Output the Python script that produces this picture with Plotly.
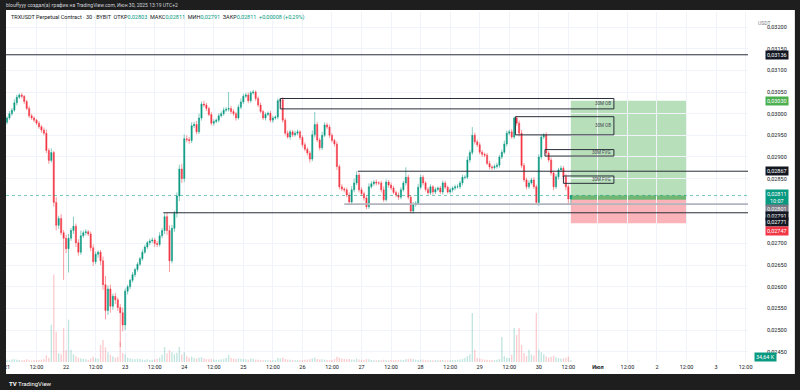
import pandas as pd
import plotly.graph_objects as go

# ---------------- data (prices in units of 0.00001 USDT) ----------------
first_open = 2980
closes = [
    # Jun 21
    2990, 3000, 3008, 3025, 3038, 3043, 3040, 3028, 3012, 2995, 2990, 2985,
    2978, 2970, 2962, 2955, 2915, 2892, 2910, 2795, 2742, 2758, 2725, 2712,
    # Jun 22
    2688, 2712, 2730, 2740, 2702, 2680, 2718, 2725, 2727, 2722, 2690, 2658,
    2675, 2680, 2660, 2605, 2545, 2595, 2555, 2578, 2570, 2552, 2540, 2512,
    # Jun 23
    2590, 2600, 2615, 2628, 2640, 2652, 2665, 2680, 2692, 2702, 2706, 2708,
    2700, 2698, 2718, 2730, 2762, 2730, 2660, 2735, 2770, 2810, 2872, 2850,
    # Jun 24
    2942, 2940, 2938, 2972, 2975, 2958, 2990, 3022, 3020, 3012, 2998, 2978,
    2982, 2985, 2995, 3000, 3008, 3010, 3012, 3005, 3000, 2990, 3015, 3027,
    # Jun 25
    3040, 3043, 3030, 3048, 3050, 3035, 3020, 3005, 2990, 2998, 3001, 2985,
    2990, 2992, 3030, 3032, 2985, 2955, 2946, 2958, 2951, 2955, 2958, 2945,
    # Jun 26
    2928, 2918, 2909, 2895, 2951, 2975, 2939, 2921, 2950, 2974, 2969, 2950,
    2938, 2930, 2878, 2831, 2826, 2824, 2812, 2796, 2824, 2840, 2858, 2824,
    # Jun 27
    2815, 2805, 2785, 2831, 2838, 2842, 2840, 2840, 2824, 2801, 2842, 2835,
    2828, 2818, 2812, 2807, 2824, 2840, 2853, 2807, 2775, 2790, 2793, 2830,
    # Jun 28
    2853, 2840, 2825, 2817, 2831, 2819, 2825, 2828, 2819, 2840, 2830, 2819,
    2824, 2828, 2831, 2831, 2840, 2853, 2853, 2893, 2910, 2950, 2935, 2928,
    # Jun 29
    2911, 2906, 2904, 2885, 2877, 2875, 2878, 2881, 2900, 2911, 2930, 2955,
    2958, 2946, 2990, 2978, 2955, 2880, 2847, 2831, 2840, 2847, 2831, 2795,
    # Jun 30
    2900, 2946, 2951, 2909, 2893, 2863, 2831, 2854, 2870, 2874, 2854, 2831,
    2803, 2811,
]
wick_up = [
    4, 6, 5, 8, 6, 4, 5, 3, 4, 6, 5, 4, 3, 5, 4, 6, 8, 5, 10, 4, 12, 6, 10, 6,
    8, 10, 6, 22, 6, 8, 12, 5, 6, 4, 6, 8, 6, 4, 5, 10, 20, 8, 10, 6, 8, 5, 8, 12,
    6, 5, 4, 6, 4, 5, 4, 6, 5, 4, 5, 6, 5, 6, 8, 6, 8, 10, 12, 8, 6, 8, 10, 12,
    10, 8, 6, 8, 6, 8, 10, 6, 8, 5, 4, 6, 5, 4, 6, 5, 6, 5, 38, 6, 5, 4, 6, 8,
    6, 5, 6, 4, 5, 4, 5, 6, 4, 5, 4, 6, 5, 4, 5, 4, 6, 5, 6, 5, 4, 6, 5, 4,
    5, 6, 4, 5, 10, 29, 6, 5, 8, 6, 5, 6, 5, 4, 6, 5, 6, 4, 5, 6, 8, 10, 9, 6,
    6, 5, 6, 8, 6, 5, 6, 4, 5, 8, 6, 5, 6, 5, 4, 6, 6, 5, 23, 6, 5, 6, 5, 8,
    6, 5, 4, 5, 6, 4, 5, 4, 5, 6, 5, 4, 5, 4, 5, 6, 5, 6, 5, 8, 6, 19, 6, 5,
    6, 5, 4, 5, 6, 4, 5, 6, 5, 6, 8, 6, 5, 6, 3, 5, 6, 8, 6, 5, 6, 5, 6, 5,
    6, 5, 4, 6, 5, 6, 5, 6, 5, 6, 5, 6, 5, 0,
]
wick_dn = [
    5, 4, 5, 4, 6, 4, 5, 6, 4, 5, 4, 5, 4, 5, 6, 5, 6, 8, 5, 10, 12, 8, 6, 96,
    10, 55, 6, 8, 10, 8, 6, 5, 6, 5, 8, 10, 6, 8, 10, 12, 20, 10, 15, 8, 10, 8, 79, 15,
    12, 8, 6, 5, 6, 5, 4, 5, 4, 5, 6, 5, 8, 6, 5, 6, 8, 10, 26, 6, 8, 10, 12, 10,
    8, 6, 8, 6, 5, 6, 5, 6, 5, 6, 4, 5, 6, 4, 5, 4, 5, 4, 5, 6, 5, 6, 4, 5,
    5, 4, 6, 5, 4, 6, 5, 4, 5, 6, 4, 5, 6, 4, 5, 4, 6, 5, 4, 6, 5, 4, 5, 6,
    6, 5, 6, 8, 5, 6, 5, 6, 5, 4, 5, 6, 5, 6, 8, 6, 5, 6, 5, 6, 5, 6, 5, 6,
    5, 6, 6, 5, 4, 5, 6, 5, 6, 5, 4, 6, 5, 4, 5, 6, 5, 4, 6, 5, 5, 6, 5, 4,
    5, 6, 5, 4, 5, 6, 5, 4, 5, 6, 5, 4, 5, 6, 5, 4, 5, 6, 5, 4, 6, 5, 6, 5,
    5, 6, 5, 4, 6, 5, 4, 5, 6, 5, 4, 6, 5, 4, 5, 6, 8, 6, 5, 6, 5, 4, 5, 6,
    8, 6, 5, 6, 5, 6, 8, 5, 6, 5, 6, 8, 14, 12,
]
volume_k = [
    45, 38, 52, 60, 48, 40, 35, 42, 55, 38, 30, 42, 36, 40, 48, 62, 140, 90, 765, 1800, 620, 180, 160, 700,
    240, 870, 250, 160, 120, 90, 75, 60, 55, 48, 70, 110, 80, 65, 350, 455, 300, 200, 150, 120, 90, 110, 410, 180,
    160, 90, 70, 60, 55, 70, 60, 50, 45, 55, 40, 48, 52, 60, 90, 150, 310, 180, 240, 200, 160, 190, 310, 150,
    200, 120, 90, 110, 80, 70, 90, 100, 70, 60, 55, 65, 50, 48, 45, 55, 60, 80, 150, 90, 70, 60, 75, 65,
    60, 55, 48, 70, 65, 50, 45, 40, 38, 42, 36, 40, 35, 38, 80, 70, 90, 60, 50, 45, 40, 38, 42, 36,
    40, 45, 50, 55, 70, 90, 60, 50, 55, 48, 40, 38, 42, 60, 110, 90, 70, 60, 55, 60, 50, 45, 70, 50,
    45, 40, 60, 55, 42, 38, 35, 40, 38, 45, 40, 36, 34, 38, 40, 42, 45, 40, 55, 60, 70, 55, 48, 42,
    50, 45, 40, 38, 36, 34, 38, 36, 40, 42, 38, 35, 36, 38, 40, 45, 50, 60, 80, 120, 160, 1010, 250, 90,
    70, 55, 48, 45, 40, 42, 38, 45, 60, 515, 120, 90, 80, 150, 700, 555, 700, 350, 180, 120, 250, 150, 130, 1010,
    250, 200, 160, 120, 90, 110, 130, 100, 80, 70, 75, 90, 110, 34.64,
]
unit = 1e-5
times = pd.date_range("2025-06-21 00:00", periods=len(closes), freq="h")

# drawings
level_top = 0.03136
level_res = 0.02867
level_grey = 0.02791
level_sup = 0.02771
last_price = 0.02811
pos_entry, pos_target, pos_stop = 0.02801, 0.03030, 0.02747
zones = [  # label, start, end, low, high
    ("30M OB", "2025-06-25 15:00", "2025-07-01 06:30", 0.03011, 0.03035),
    ("30M OB", "2025-06-29 14:30", "2025-07-01 06:30", 0.02951, 0.02993),
    ("30M FVG", "2025-06-30 02:30", "2025-07-01 06:30", 0.02902, 0.02917),
    ("30M FVG", "2025-06-30 10:00", "2025-07-01 06:30", 0.02839, 0.02856),
]
x_ticks = pd.date_range("2025-06-21 00:00", "2025-07-03 12:00", freq="12h")
x_ticktext = ["21", "12:00", "22", "12:00", "23", "12:00", "24", "12:00", "25", "12:00",
              "26", "12:00", "27", "12:00", "28", "12:00", "29", "12:00", "30", "12:00",
              "<b>Июл</b>", "12:00", "2", "12:00", "3", "12:00"]
y_ticks = [0.0245, 0.0250, 0.0255, 0.0260, 0.0265, 0.0270, 0.0285, 0.0290,
           0.0295, 0.0300, 0.0305, 0.0310, 0.0315, 0.0320]

# ---------------- derived OHLC ----------------
close = [c * unit for c in closes]
opens = [first_open * unit] + close[:-1]
high = [max(o, c) + w * unit for o, c, w in zip(opens, close, wick_up)]
low = [min(o, c) - w * unit for o, c, w in zip(opens, close, wick_dn)]
UP, DN = "#089981", "#f23645"
vol_colors = ["rgba(8,153,129,0.25)" if c >= o else "rgba(242,54,69,0.25)" for o, c in zip(opens, close)]

def fmt(v):
    return f"{v:.5f}".replace(".", ",")

fig = go.Figure()
fig.add_trace(go.Bar(x=times, y=volume_k, marker=dict(color=vol_colors, line_width=0),
                     yaxis="y2", showlegend=False, hoverinfo="skip"))
fig.add_trace(go.Candlestick(
    x=times, open=opens, high=high, low=low, close=close,
    increasing=dict(line=dict(color=UP, width=0.5), fillcolor=UP),
    decreasing=dict(line=dict(color=DN, width=0.5), fillcolor=DN),
    whiskerwidth=0, showlegend=False, hoverinfo="skip"))

ML, MR, MT, MB, W, H = 4, 52, 12, 28, 800, 390
PW, PH = W - ML - MR, H - MT - MB
def px_x(px):
    return (px - ML) / PW
def px_y(py):
    return (H - MB - py) / PH

x_end = "2025-07-03 12:58"
shapes = [
    dict(type="rect", xref="paper", yref="paper", x0=px_x(4), x1=px_x(795), y0=px_y(374), y1=px_y(10),
         fillcolor="white", line_width=0, layer="below"),
    # position tool
    dict(type="rect", xref="x", yref="y", x0="2025-06-30 13:00", x1="2025-07-02 12:00",
         y0=pos_entry, y1=pos_target, fillcolor="rgba(76,175,80,0.4)", line_width=0, layer="below"),
    dict(type="rect", xref="x", yref="y", x0="2025-06-30 13:00", x1="2025-07-02 12:00",
         y0=pos_entry, y1=last_price, fillcolor="rgba(56,150,60,0.55)", line_width=0, layer="below"),
    dict(type="rect", xref="x", yref="y", x0="2025-06-30 13:00", x1="2025-07-02 12:00",
         y0=pos_stop, y1=pos_entry, fillcolor="rgba(242,54,69,0.38)", line_width=0, layer="below"),
    # levels
    dict(type="line", xref="paper", yref="y", x0=0, x1=1, y0=level_top, y1=level_top,
         line=dict(color="#2a2e39", width=1)),
    dict(type="line", xref="x", yref="y", x0="2025-06-26 22:30", x1=x_end, y0=level_res, y1=level_res,
         line=dict(color="#2a2e39", width=1)),
    dict(type="line", xref="x", yref="y", x0="2025-06-26 17:00", x1=x_end, y0=level_grey, y1=level_grey,
         line=dict(color="#b2b5be", width=1.6)),
    dict(type="line", xref="x", yref="y", x0="2025-06-23 15:30", x1=x_end, y0=level_sup, y1=level_sup,
         line=dict(color="#2a2e39", width=1)),
    dict(type="line", xref="paper", yref="y", x0=0, x1=1, y0=last_price, y1=last_price,
         line=dict(color="rgba(8,153,129,0.55)", width=1, dash="dot")),
]
for lab, x0, x1, y0, y1 in zones:
    shapes.append(dict(type="rect", xref="x", yref="y", x0=x0, x1=x1, y0=y0, y1=y1,
                       fillcolor="rgba(0,0,0,0)", line=dict(color="#2a2e39", width=1)))

FONT = "Roboto, Arial, sans-serif"
ann = []
for lab, x0, x1, y0, y1 in zones:
    ann.append(dict(xref="x", yref="y", x=x1, y=(y0 + y1) / 2, text=lab, showarrow=False,
                    xanchor="right", xshift=-1, font=dict(size=4.5, color="#434651", family=FONT)))

lab_x = px_x(777.5)
def price_tag(val, bg, yshift=0, text=None, fg="white"):
    return dict(xref="paper", yref="y", x=lab_x, y=val, text=text or fmt(val), showarrow=False,
                xanchor="center", yanchor="middle", yshift=yshift, bgcolor=bg, borderpad=1,
                font=dict(size=5.5, color=fg, family=FONT))

ann += [
    price_tag(level_top, "#131722"),
    price_tag(pos_target, "#4caf50"),
    price_tag(level_res, "#131722"),
    price_tag(last_price, UP, yshift=-2.5, text=fmt(last_price) + "<br>10:07"),
    price_tag(pos_entry, "#787b86", yshift=-9),
    price_tag(level_grey, "#131722", yshift=-12),
    price_tag(level_sup, "#131722", yshift=-9.7),
    price_tag(pos_stop, DN, yshift=-7.4),
    dict(xref="paper", yref="y2", x=lab_x, y=volume_k[-1], text="34,64 K", showarrow=False,
         yshift=3, bgcolor=UP, borderpad=1, font=dict(size=5.5, color="white", family=FONT)),
    dict(xref="paper", yref="paper", x=px_x(772), y=px_y(18), text="USDT", showarrow=False,
         font=dict(size=5, color="#787b86", family=FONT)),
    dict(xref="paper", yref="paper", x=px_x(2), y=px_y(5.5), xanchor="left", yanchor="middle",
         text="blouffyyy создал(а) график на TradingView.com, Июн 30, 2025 13:19 UTC+2",
         showarrow=False, font=dict(size=5, color="#d1d4dc", family=FONT)),
    dict(xref="paper", yref="paper", x=px_x(7), y=px_y(17.3), xanchor="left", yanchor="middle",
         showarrow=False, font=dict(size=5.5, color="#131722", family=FONT),
         text=("TRXUSDT Perpetual Contract · 30 · BYBIT  "
               "ОТКР<span style='color:#089981'>0,02803</span>  "
               "МАКС<span style='color:#089981'>0,02811</span>  "
               "МИН<span style='color:#089981'>0,02791</span>  "
               "ЗАКР<span style='color:#089981'>0,02811</span>  "
               "<span style='color:#089981'>+0,00008 (+0,29%)</span>")),
    dict(xref="paper", yref="paper", x=px_x(5), y=px_y(383), xanchor="left", yanchor="middle",
         text="<b>TV</b> TradingView", showarrow=False,
         font=dict(size=6, color="#ffffff", family=FONT)),
]

fig.update_layout(
    width=W, height=H, margin=dict(l=ML, r=MR, t=MT, b=MB),
    paper_bgcolor="#1e1e1e", plot_bgcolor="white",
    shapes=shapes, annotations=ann, showlegend=False, bargap=0.45,
    font=dict(family=FONT, color="#131722"),
    xaxis=dict(type="date", range=["2025-06-20 23:36", x_end], rangeslider=dict(visible=False),
               tickvals=list(x_ticks), ticktext=x_ticktext, showgrid=True, gridcolor="#f0f3fa",
               zeroline=False, showline=False, ticks="", tickfont=dict(size=5.5, color="#131722")),
    yaxis=dict(side="right", range=[0.024263, 0.032348], tickvals=y_ticks,
               ticktext=[fmt(v) for v in y_ticks], showgrid=True, gridcolor="#f0f3fa",
               zeroline=False, showline=False, ticks="outside", ticklen=17,
               tickcolor="rgba(0,0,0,0)", tickfont=dict(size=5.5, color="#131722")),
    yaxis2=dict(overlaying="y", range=[0, 7200], visible=False),
)

fig.write_html("out.html", config={"displayModeBar": False},
               post_script="document.body.style.margin='0';")
